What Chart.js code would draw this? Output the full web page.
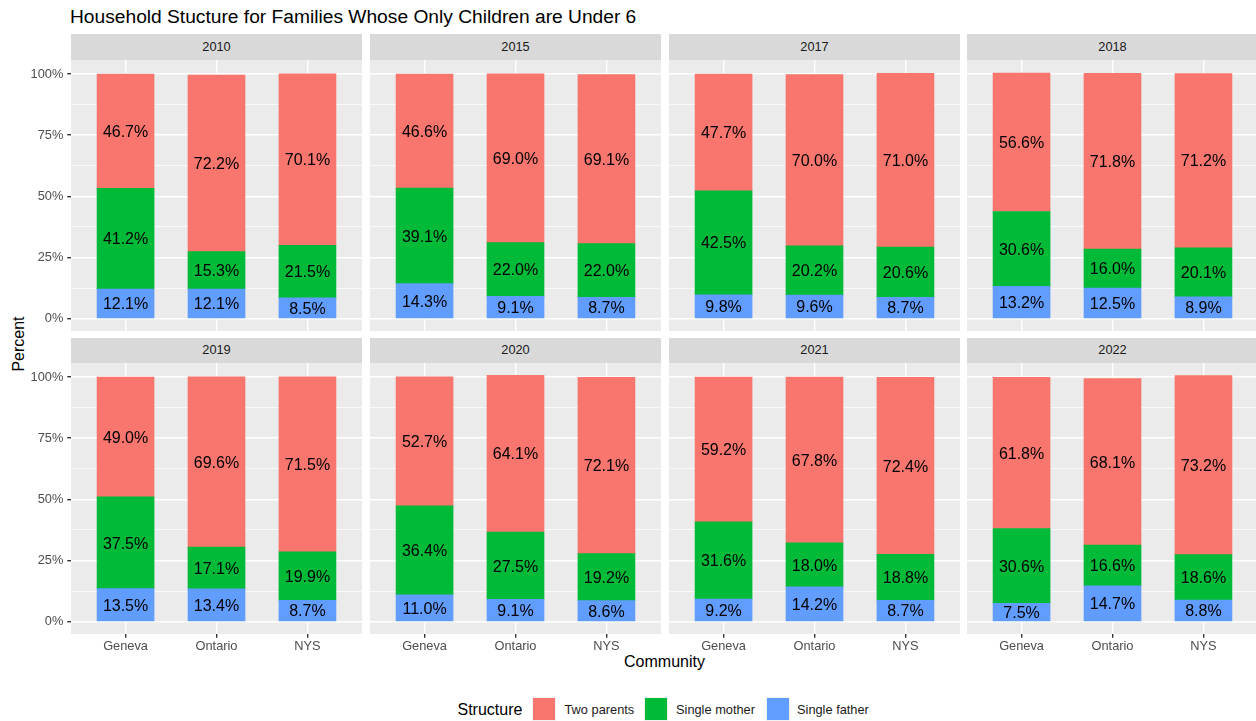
<!DOCTYPE html>
<html>
<head>
<meta charset="utf-8">
<script src="https://cdn.jsdelivr.net/npm/chart.js@4.4.0/dist/chart.umd.min.js"></script>
<style>
  body { margin:0; width:1256px; height:721px; overflow:hidden; background:#fff; position:relative;
         font-family:"Liberation Sans", Arial, sans-serif; }
  .txt { position:absolute; white-space:nowrap; }
  .strip { position:absolute; background:#D9D9D9; color:#1A1A1A; font-size:12.8px; line-height:12.8px;
           display:flex; align-items:center; justify-content:center; }
  .key { position:absolute; width:24px; height:24px; box-sizing:border-box; border:1px solid #F2F2F2; }
</style>
</head>
<body>
<div class="txt" style="left:70px;top:6.5px;font-size:19.2px;line-height:19.2px;color:#000;">Household Stucture for Families Whose Only Children are Under 6</div>
<div class="txt" style="left:-21.2px;top:336px;width:80px;text-align:center;font-size:16px;line-height:16px;transform:rotate(-90deg);">Percent</div>
<div class="txt" style="left:614.5px;top:654.2px;width:100px;text-align:center;font-size:16px;line-height:16px;">Community</div>
<div id="legend"></div>
<script>
// values, one row per year: [Geneva, Ontario, NYS]
const years = ['2010', '2015', '2017', '2018', '2019', '2020', '2021', '2022'];
const communities = ['Geneva', 'Ontario', 'NYS'];
const structures = ['Two parents', 'Single mother', 'Single father'];
const structureColors = ['#F8766D', '#00BA38', '#619CFF'];

const twoParents = [
  [46.7, 72.2, 70.1], [46.6, 69.0, 69.1], [47.7, 70.0, 71.0], [56.6, 71.8, 71.2],
  [49.0, 69.6, 71.5], [52.7, 64.1, 72.1], [59.2, 67.8, 72.4], [61.8, 68.1, 73.2]
];
const singleMother = [
  [41.2, 15.3, 21.5], [39.1, 22.0, 22.0], [42.5, 20.2, 20.6], [30.6, 16.0, 20.1],
  [37.5, 17.1, 19.9], [36.4, 27.5, 19.2], [31.6, 18.0, 18.8], [30.6, 16.6, 18.6]
];
const singleFather = [
  [12.1, 12.1, 8.5], [14.3, 9.1, 8.7], [9.8, 9.6, 8.7], [13.2, 12.5, 8.9],
  [13.5, 13.4, 8.7], [11.0, 9.1, 8.6], [9.2, 14.2, 8.7], [7.5, 14.7, 8.8]
];
const yTicks = [0, 25, 50, 75, 100];
const yMinorTicks = [12.5, 37.5, 62.5, 87.5];

const FONT = '"Liberation Sans", Arial, sans-serif';
Chart.defaults.font.family = FONT;

// facet geometry
const panelLeft = [71, 370, 669, 967];
const panelTop = [60, 363];
const panelW = 291, panelH = 271;
const stripTop = [34, 338], stripH = [26, 25];

const seriesByStructure = [twoParents, singleMother, singleFather];

// grey panel background
const panelBg = {
  id: 'panelBg',
  beforeDraw(chart) {
    const a = chart.chartArea, c = chart.ctx;
    c.save();
    c.fillStyle = '#EBEBEB';
    c.fillRect(a.left, a.top, a.right - a.left, a.bottom - a.top);
    c.restore();
  }
};

// percent labels in the middle of each segment
const barLabels = {
  id: 'barLabels',
  afterDatasetsDraw(chart) {
    const c = chart.ctx;
    c.save();
    c.font = '16px ' + FONT;
    c.fillStyle = '#000';
    c.textAlign = 'center';
    c.textBaseline = 'alphabetic';
    chart.data.datasets.forEach((ds, d) => {
      chart.getDatasetMeta(d).data.forEach((bar, i) => {
        const v = ds.data[i].y;
        c.fillText(v.toFixed(1) + '%', bar.x, (bar.y + bar.base) / 2 + 0.36 * 16);
      });
    });
    c.restore();
  }
};

years.forEach((yr, k) => {
  const row = Math.floor(k / 4), col = k % 4;
  const yAxisW = col === 0 ? panelLeft[0] : 0;
  const xAxisH = row === 1 ? 30 : 0;

  const strip = document.createElement('div');
  strip.className = 'strip';
  strip.style.cssText = `left:${panelLeft[col]}px;top:${stripTop[row]}px;width:${panelW}px;height:${stripH[row]}px;`;
  strip.textContent = yr;
  document.body.appendChild(strip);

  const box = document.createElement('div');
  box.style.cssText = `position:absolute;left:${panelLeft[col] - yAxisW}px;top:${panelTop[row]}px;` +
    `width:${panelW + yAxisW}px;height:${panelH + xAxisH}px;`;
  const cv = document.createElement('canvas');
  box.appendChild(cv);
  document.body.appendChild(box);

  // bottom to top: single father, single mother, two parents
  const datasets = [2, 1, 0].map(s => ({
    label: structures[s],
    data: seriesByStructure[s][k].map((v, i) => ({ x: i, y: v })),
    backgroundColor: structureColors[s],
    borderWidth: 0,
    barThickness: 57
  }));

  new Chart(cv, {
    type: 'bar',
    data: { datasets: datasets },
    options: {
      responsive: true,
      maintainAspectRatio: false,
      animation: false,
      layout: { padding: 0, autoPadding: false },
      plugins: { legend: { display: false }, tooltip: { enabled: false } },
      scales: {
        x: {
          type: 'linear', stacked: true, min: -0.6, max: 2.6, offset: false,
          afterBuildTicks: s => { s.ticks = communities.map((c, i) => ({ value: i })); },
          afterFit: s => { s.height = xAxisH; s.paddingLeft = 0; s.paddingRight = 0; },
          grid: { offset: false, color: '#FFFFFF', lineWidth: 1.4, drawTicks: row === 1,
                  tickLength: 3.7, tickColor: '#333333', tickWidth: 1.4 },
          border: { display: false },
          ticks: { display: row === 1, color: '#4D4D4D', font: { family: FONT, size: 12.8 },
                   padding: 1.5, maxRotation: 0, autoSkip: false, callback: v => communities[v] }
        },
        y: {
          type: 'linear', stacked: true, min: -5.035, max: 105.735,
          afterBuildTicks: s => {
            s.ticks = yTicks.concat(yMinorTicks).sort((a, b) => a - b).map(v => ({ value: v }));
          },
          afterFit: s => { s.width = yAxisW; s.paddingTop = 0; s.paddingBottom = 0; },
          grid: { color: '#FFFFFF',
                  lineWidth: c => yTicks.includes(c.tick.value) ? 1.4 : 0.7,
                  drawTicks: col === 0, tickLength: 3.7, tickWidth: 1.4,
                  tickColor: c => yTicks.includes(c.tick.value) ? '#333333' : 'rgba(0,0,0,0)' },
          border: { display: false },
          ticks: { display: col === 0, color: '#4D4D4D', font: { family: FONT, size: 12.8 },
                   padding: 4, autoSkip: false, callback: v => yTicks.includes(v) ? v + '%' : '' }
        }
      }
    },
    plugins: [panelBg, barLabels]
  });
});

// legend
const legend = document.getElementById('legend');
const lg = document.createElement('div');
lg.className = 'txt';
lg.style.cssText = 'left:457.5px;top:702.2px;font-size:16px;line-height:16px;';
lg.textContent = 'Structure';
legend.appendChild(lg);
const keyLeft = [532, 644, 766];
const labelLeft = [564.5, 676, 797];
structures.forEach((s, i) => {
  const key = document.createElement('div');
  key.className = 'key';
  key.style.cssText = `left:${keyLeft[i]}px;top:697px;background:${structureColors[i]};`;
  legend.appendChild(key);
  const t = document.createElement('div');
  t.className = 'txt';
  t.style.cssText = `left:${labelLeft[i]}px;top:703.5px;font-size:12.8px;line-height:12.8px;color:#1A1A1A;`;
  t.textContent = s;
  legend.appendChild(t);
});
</script>
</body>
</html>
